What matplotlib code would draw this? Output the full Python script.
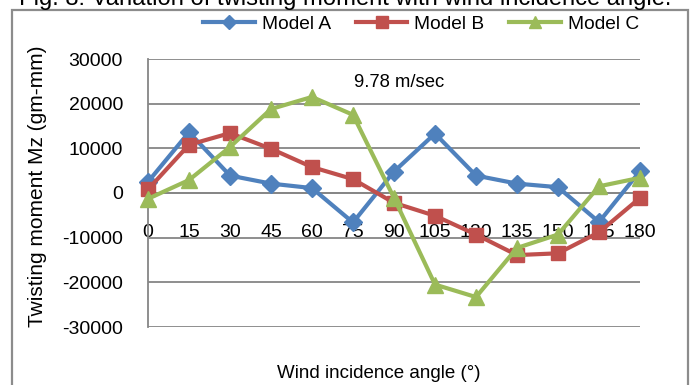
import matplotlib.pyplot as plt
from matplotlib.patches import Rectangle

plt.rcParams['font.family'] = ['Liberation Sans', 'DejaVu Sans']

angles = [0, 15, 30, 45, 60, 75, 90, 105, 120, 135, 150, 165, 180]
model_a = [2500, 13600, 3900, 2100, 1100, -6600, 4800, 13300, 3900, 2100, 1300, -6500, 4900]
model_b = [800, 10800, 13400, 9900, 5800, 3100, -2200, -5100, -9300, -13900, -13500, -8800, -1100]
model_c = [-1300, 2900, 10300, 18800, 21500, 17500, -1100, -20500, -23300, -12300, -9300, 1500, 3400]

series_names = ["Model A", "Model B", "Model C"]
colors = ["#4F81BD", "#C0504D", "#9BBB59"]
markers = ["D", "s", "^"]
msizes = [9.5, 10, 11.5]

y_ticks = [-30000, -20000, -10000, 0, 10000, 20000, 30000]

fig = plt.figure(figsize=(6.95, 3.85), dpi=100)
ax = fig.add_axes([148 / 695, 1 - 327 / 385, 492 / 695, 268 / 385])

for vals, name, c, m, ms in zip([model_a, model_b, model_c], series_names, colors, markers, msizes):
    ax.plot(angles, vals, color=c, lw=3, marker=m, markersize=ms, label=name, clip_on=False, zorder=3)

ax.set_xlim(0, 180)
ax.set_ylim(-30000, 30000)
ax.set_yticks(y_ticks)
ax.set_yticklabels([str(t) for t in y_ticks])
ax.set_xticks(angles)
ax.set_xticklabels([str(a) for a in angles])
ax.grid(axis="y", color="#868686", lw=1.3, zorder=0)
ax.tick_params(length=0, labelsize=14)
ax.tick_params(axis="y", pad=18)
ax.tick_params(axis="x", pad=22)

for s in ["top", "right"]:
    ax.spines[s].set_visible(False)
ax.spines["left"].set_color("#868686")
ax.spines["left"].set_linewidth(1.3)
ax.spines["bottom"].set_position(("data", 0))
ax.spines["bottom"].set_color("#868686")
ax.spines["bottom"].set_linewidth(1.3)

ax.text(75.5, 24800, "9.78 m/sec", fontsize=13.3, va="center", ha="left")

fig.text(38 / 695, 1 - 186 / 385, "Twisting moment Mz (gm-mm)", rotation=90,
         fontsize=15, ha="center", va="center")
fig.text(379 / 695, 1 - 373 / 385, "Wind incidence angle (°)", fontsize=13.5,
         ha="center", va="center")

fig.legend(loc="center", bbox_to_anchor=(421 / 695, 1 - 24 / 385), ncol=3, frameon=False,
           fontsize=13.8, handlelength=2.7, handletextpad=0.35, columnspacing=1.3,
           markerscale=0.8)

fig.text(345 / 695, 1 - 5 / 385, "Fig. 8: Variation of twisting moment with wind incidence angle.",
         fontsize=17.1, ha="center", va="baseline")

fig.patches.append(Rectangle((12 / 695, -0.1), 676 / 695, 1.1 - 10 / 385, transform=fig.transFigure,
                             fill=False, edgecolor="#8c8c8c", lw=1.6))

fig.savefig("out.png", dpi=100)
